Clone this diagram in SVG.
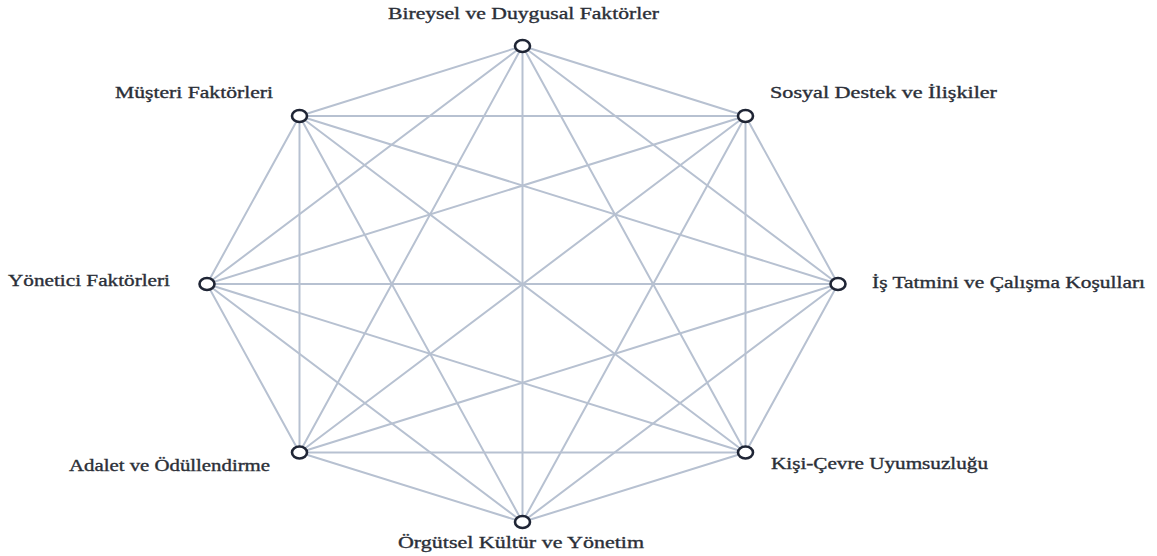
<svg xmlns="http://www.w3.org/2000/svg" width="1157" height="556" viewBox="0 0 1157 556">
<style>
.e{stroke:#b7c1d1;stroke-width:2;fill:none;stroke-linecap:round}
.n{fill:#ffffff;stroke:#1f2535;stroke-width:2.6}
.t{font-family:"Liberation Serif","Times New Roman",serif;font-size:16.5px;fill:#2b2f38;stroke:#2b2f38;stroke-width:0.35}
</style>
<rect width="1157" height="556" fill="#ffffff"/>
<g id="connectors">
<line class="e" x1="522.5" y1="46" x2="745.5" y2="116"/>
<line class="e" x1="522.5" y1="46" x2="838" y2="284"/>
<line class="e" x1="522.5" y1="46" x2="745.5" y2="452.5"/>
<line class="e" x1="522.5" y1="46" x2="522.5" y2="522"/>
<line class="e" x1="522.5" y1="46" x2="299.5" y2="452.5"/>
<line class="e" x1="522.5" y1="46" x2="207" y2="284"/>
<line class="e" x1="522.5" y1="46" x2="299.5" y2="116"/>
<line class="e" x1="745.5" y1="116" x2="838" y2="284"/>
<line class="e" x1="745.5" y1="116" x2="745.5" y2="452.5"/>
<line class="e" x1="745.5" y1="116" x2="522.5" y2="522"/>
<line class="e" x1="745.5" y1="116" x2="299.5" y2="452.5"/>
<line class="e" x1="745.5" y1="116" x2="207" y2="284"/>
<line class="e" x1="745.5" y1="116" x2="299.5" y2="116"/>
<line class="e" x1="838" y1="284" x2="745.5" y2="452.5"/>
<line class="e" x1="838" y1="284" x2="522.5" y2="522"/>
<line class="e" x1="838" y1="284" x2="299.5" y2="452.5"/>
<line class="e" x1="838" y1="284" x2="207" y2="284"/>
<line class="e" x1="838" y1="284" x2="299.5" y2="116"/>
<line class="e" x1="745.5" y1="452.5" x2="522.5" y2="522"/>
<line class="e" x1="745.5" y1="452.5" x2="299.5" y2="452.5"/>
<line class="e" x1="745.5" y1="452.5" x2="207" y2="284"/>
<line class="e" x1="745.5" y1="452.5" x2="299.5" y2="116"/>
<line class="e" x1="522.5" y1="522" x2="299.5" y2="452.5"/>
<line class="e" x1="522.5" y1="522" x2="207" y2="284"/>
<line class="e" x1="522.5" y1="522" x2="299.5" y2="116"/>
<line class="e" x1="299.5" y1="452.5" x2="207" y2="284"/>
<line class="e" x1="299.5" y1="452.5" x2="299.5" y2="116"/>
<line class="e" x1="207" y1="284" x2="299.5" y2="116"/>
</g>
<g id="node-bireysel">
<ellipse class="n" cx="522.5" cy="46" rx="7.5" ry="6"/>
<text class="t" x="523.5" y="19" text-anchor="middle" textLength="271" lengthAdjust="spacingAndGlyphs">Bireysel ve Duygusal Faktörler</text>
</g>
<g id="node-sosyal">
<ellipse class="n" cx="745.5" cy="116" rx="7.5" ry="6"/>
<text class="t" x="770" y="98" textLength="227" lengthAdjust="spacingAndGlyphs">Sosyal Destek ve İlişkiler</text>
</g>
<g id="node-is-tatmini">
<ellipse class="n" cx="838" cy="284" rx="7.5" ry="6"/>
<text class="t" x="872" y="288" textLength="273" lengthAdjust="spacingAndGlyphs">İş Tatmini ve Çalışma Koşulları</text>
</g>
<g id="node-kisi-cevre">
<ellipse class="n" cx="745.5" cy="452.5" rx="7.5" ry="6"/>
<text class="t" x="771" y="469" textLength="217" lengthAdjust="spacingAndGlyphs">Kişi-Çevre Uyumsuzluğu</text>
</g>
<g id="node-orgutsel">
<ellipse class="n" cx="522.5" cy="522" rx="7.5" ry="6"/>
<text class="t" x="521" y="548" text-anchor="middle" textLength="246" lengthAdjust="spacingAndGlyphs">Örgütsel Kültür ve Yönetim</text>
</g>
<g id="node-adalet">
<ellipse class="n" cx="299.5" cy="452.5" rx="7.5" ry="6"/>
<text class="t" x="69" y="471" textLength="201" lengthAdjust="spacingAndGlyphs">Adalet ve Ödüllendirme</text>
</g>
<g id="node-yonetici">
<ellipse class="n" cx="207" cy="284" rx="7.5" ry="6"/>
<text class="t" x="8" y="286" textLength="162" lengthAdjust="spacingAndGlyphs">Yönetici Faktörleri</text>
</g>
<g id="node-musteri">
<ellipse class="n" cx="299.5" cy="116" rx="7.5" ry="6"/>
<text class="t" x="115" y="98" textLength="158" lengthAdjust="spacingAndGlyphs">Müşteri Faktörleri</text>
</g>
</svg>
